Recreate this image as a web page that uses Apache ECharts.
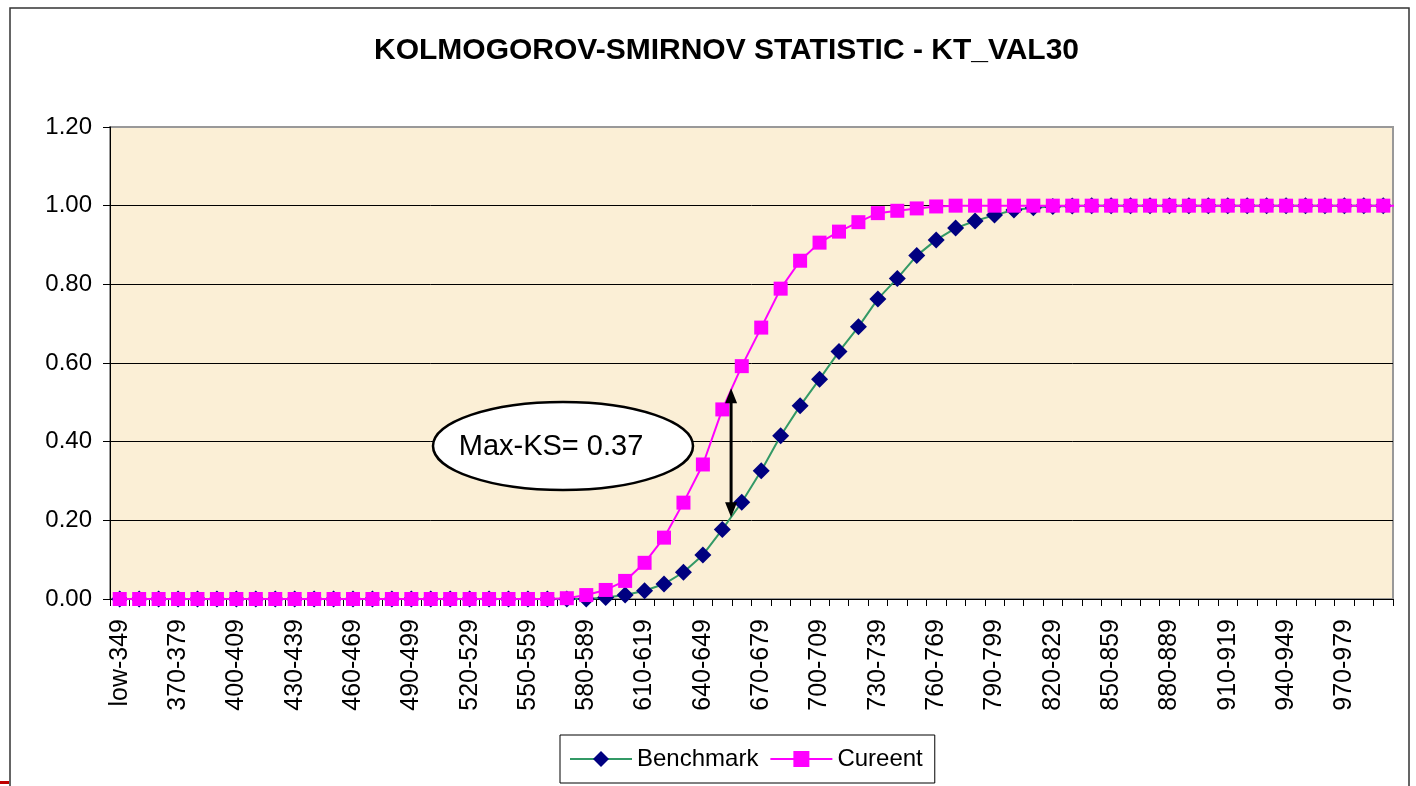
<!DOCTYPE html>
<html>
<head>
<meta charset="utf-8">
<script src="https://cdn.jsdelivr.net/npm/echarts@6/dist/echarts.min.js"></script>
<style>
  html, body { margin: 0; padding: 0; background: #fff; }
  #chart { width: 1416px; height: 786px; }
</style>
</head>
<body>
<div id="chart"></div>
<script>
// 分组区间
const categories = [
  'low-349', '350-359', '360-369', '370-379', '380-389', '390-399',
  '400-409', '410-419', '420-429', '430-439', '440-449', '450-459',
  '460-469', '470-479', '480-489', '490-499', '500-509', '510-519',
  '520-529', '530-539', '540-549', '550-559', '560-569', '570-579',
  '580-589', '590-599', '600-609', '610-619', '620-629', '630-639',
  '640-649', '650-659', '660-669', '670-679', '680-689', '690-699',
  '700-709', '710-719', '720-729', '730-739', '740-749', '750-759',
  '760-769', '770-779', '780-789', '790-799', '800-809', '810-819',
  '820-829', '830-839', '840-849', '850-859', '860-869', '870-879',
  '880-889', '890-899', '900-909', '910-919', '920-929', '930-939',
  '940-949', '950-959', '960-969', '970-979', '980-989', '990-999'
]

// 累计分布
const benchmark = [
  0, 0, 0, 0, 0, 0, 0, 0, 0, 0, 0, 0, 0, 0, 0, 0, 0, 0, 0, 0, 0, 0, 0, 0, 0,
  0.004, 0.010, 0.021, 0.038, 0.068, 0.112, 0.177, 0.246, 0.326, 0.415,
  0.491, 0.559, 0.629, 0.692, 0.763, 0.815, 0.873, 0.913, 0.943, 0.961,
  0.976, 0.989, 0.995, 0.998, 0.999,
  1, 1, 1, 1, 1, 1, 1, 1, 1, 1, 1, 1, 1, 1, 1, 1
]
const current = [
  0, 0, 0, 0, 0, 0, 0, 0, 0, 0, 0, 0, 0, 0, 0, 0, 0, 0, 0, 0, 0, 0, 0,
  0.002, 0.010, 0.023, 0.046, 0.092, 0.156, 0.245, 0.342, 0.482, 0.592,
  0.690, 0.789, 0.860, 0.906, 0.934, 0.958, 0.981, 0.987, 0.993, 0.998,
  1, 1, 1, 1, 1, 1, 1, 1, 1, 1, 1, 1, 1, 1, 1, 1, 1, 1, 1, 1, 1, 1, 1, 1
]

// y 轴刻度
const yTicks = [0, 0.2, 0.4, 0.6, 0.8, 1.0, 1.2]

// Max-KS 标注
const ksLabel = 'Max-KS= 0.37'
const ksArrow = { between: [31, 32], from: 0.208, to: 0.536 }

const FONT = '"Liberation Sans", Arial, sans-serif'

const chart = echarts.init(document.getElementById('chart'))

const option = {
  backgroundColor: '#fff',
  animation: false,
  title: {
    text: 'KOLMOGOROV-SMIRNOV STATISTIC - KT_VAL30',
    left: 369,
    top: 31,
    textStyle: { fontFamily: FONT, fontSize: 30, fontWeight: 'bold', color: '#000' }
  },
  legend: {
    data: ['Benchmark', 'Cureent'],
    left: 560,
    top: 735,
    padding: [12, 12, 12, 9],
    itemWidth: 62,
    itemHeight: 20,
    itemGap: 11,
    backgroundColor: '#fff',
    borderColor: '#000',
    borderWidth: 1,
    borderRadius: 0,
    textStyle: { fontFamily: FONT, fontSize: 24, color: '#000' }
  },
  grid: {
    left: 110,
    right: 23,
    top: 127,
    bottom: 187,
    show: true,
    backgroundColor: '#FBEFD6',
    borderColor: '#999',
    borderWidth: 2
  },
  xAxis: {
    type: 'category',
    data: categories,
    boundaryGap: true,
    axisLine: { lineStyle: { color: '#000', width: 1 } },
    axisTick: { show: true, alignWithLabel: false, interval: 0, length: 7, lineStyle: { color: '#000' } },
    axisLabel: {
      interval: 2,
      rotate: 90,
      margin: 20,
      fontFamily: FONT,
      fontSize: 25,
      color: '#000'
    }
  },
  yAxis: {
    type: 'value',
    min: 0,
    max: 1.2,
    interval: 0.2,
    axisLine: { show: true, lineStyle: { color: '#000', width: 1 } },
    axisTick: { show: true, length: 7, lineStyle: { color: '#000' } },
    axisLabel: {
      margin: 18,
      fontFamily: FONT,
      fontSize: 24,
      color: '#000',
      formatter: v => v.toFixed(2)
    },
    splitLine: {
      show: true,
      lineStyle: { color: yTicks.map((t, i) => i === yTicks.length - 1 ? '#999' : '#000'), width: 1 }
    }
  },
  series: [
    {
      name: 'Benchmark',
      type: 'line',
      data: benchmark,
      symbol: 'diamond',
      symbolSize: 17,
      showAllSymbol: true,
      lineStyle: { color: '#339966', width: 2 },
      itemStyle: { color: '#000080', borderWidth: 0 },
      z: 2
    },
    {
      name: 'Cureent',
      type: 'line',
      data: current,
      symbol: 'rect',
      symbolSize: 14,
      showAllSymbol: true,
      lineStyle: { color: '#FF00FF', width: 2 },
      itemStyle: { color: '#FF00FF', borderWidth: 0 },
      z: 3
    }
  ]
}

chart.setOption(option)

// 箭头和椭圆标注
const p1 = chart.convertToPixel({ gridIndex: 0 }, [ksArrow.between[0], ksArrow.to])
const p2 = chart.convertToPixel({ gridIndex: 0 }, [ksArrow.between[1], ksArrow.to])
const ax = p1[0] + (p2[0] - p1[0]) * 0.45
const yTop = p1[1]
const yBot = chart.convertToPixel({ gridIndex: 0 }, [ksArrow.between[0], ksArrow.from])[1]

chart.setOption({
  graphic: [
    {
      type: 'rect',
      shape: { x: 10, y: 8, width: 1399, height: 800 },
      style: { fill: null, stroke: '#333', lineWidth: 1.5 },
      silent: true,
      z: 100
    },
    {
      type: 'rect',
      shape: { x: 0, y: 781, width: 9, height: 3 },
      style: { fill: '#c00000' },
      silent: true,
      z: 100
    },
    {
      type: 'line',
      shape: { x1: ax, y1: yTop + 12, x2: ax, y2: yBot - 12 },
      style: { stroke: '#000', lineWidth: 3 },
      z: 100
    },
    {
      type: 'polygon',
      shape: { points: [[ax, yTop], [ax - 6, yTop + 15], [ax + 6, yTop + 15]] },
      style: { fill: '#000' },
      z: 100
    },
    {
      type: 'polygon',
      shape: { points: [[ax, yBot], [ax - 6, yBot - 15], [ax + 6, yBot - 15]] },
      style: { fill: '#000' },
      z: 100
    },
    {
      type: 'ellipse',
      shape: { cx: 563, cy: 446, rx: 130, ry: 44 },
      style: { fill: '#fff', stroke: '#000', lineWidth: 2.5 },
      z: 100
    },
    {
      type: 'text',
      x: 551,
      y: 447,
      style: {
        text: ksLabel,
        fontFamily: FONT,
        fontSize: 29,
        fill: '#000',
        align: 'center',
        verticalAlign: 'middle'
      },
      z: 101
    }
  ]
})
</script>
</body>
</html>
